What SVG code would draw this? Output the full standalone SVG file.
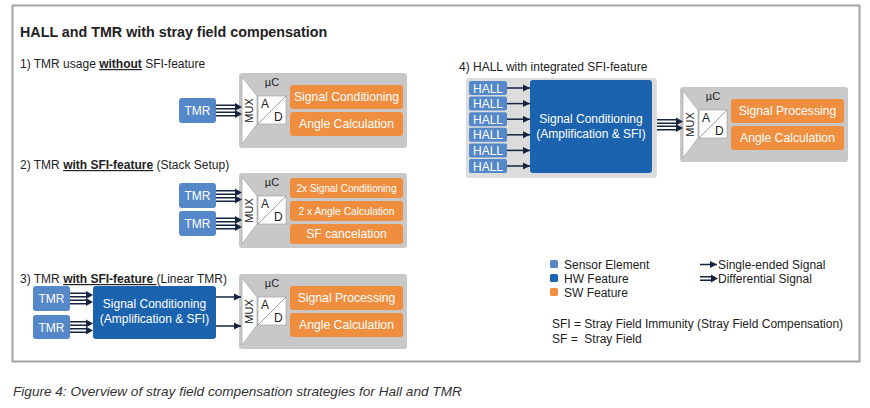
<svg xmlns="http://www.w3.org/2000/svg" width="870" height="408" viewBox="0 0 870 408">
<style>
text{font-family:"Liberation Sans",Arial,sans-serif;fill:#222}
.t12{font-size:12px}
.w{fill:#fff}
.mid{text-anchor:middle}
.gray{fill:#c8c8c8}
.sensor{fill:#5488c9}
.hw{fill:#1b63ae}
.sw{fill:#ef8e3e}
.mux{fill:#fff;stroke:#9a9a9a;stroke-width:0.6}
.diag{stroke:#8a8a8a;stroke-width:0.8}
.ln{stroke:#16243f;stroke-width:1.5;fill:none}
.hd{fill:#16243f}
</style>
<defs>
<marker id="ah" markerUnits="userSpaceOnUse" markerWidth="8" markerHeight="8" refX="7" refY="4" orient="auto">
<path d="M0,0.5 L7,4 L0,7.5 z" fill="#16243f"/>
</marker>
</defs>

<rect x="12.5" y="5.5" width="847" height="356" fill="#fff" stroke="#a4a4a4" stroke-width="2"/>
<text x="20" y="37" style="font-size:14.3px;font-weight:bold">HALL and TMR with stray field compensation</text>

<text class="t12" x="20" y="68">1) TMR usage <tspan font-weight="bold" text-decoration="underline">without</tspan> SFI-feature</text>
<text class="t12" x="20" y="169">2) TMR <tspan font-weight="bold" text-decoration="underline">with SFI-feature</tspan> (Stack Setup)</text>
<text class="t12" x="20" y="283">3) TMR <tspan font-weight="bold" text-decoration="underline">with SFI-feature </tspan>(Linear TMR)</text>
<text class="t12" x="459" y="71">4) HALL with integrated SFI-feature</text>

<!-- Section 1 -->
<g id="tmr1">
<rect class="sensor" x="179" y="98" width="37" height="25" rx="3"/>
<text class="t12 w mid" x="197.5" y="115">TMR</text>
</g>
<g id="mcu1" transform="translate(239,73)">
<rect class="gray" width="168" height="75" rx="3"/>
<polygon class="mux" points="3,4 18,23 18,51 3,71"/>
<text transform="translate(14,37.5) rotate(-90)" class="mid" style="font-size:11px">MUX</text>
<rect class="mux" x="19" y="23" width="28" height="28"/>
<line class="diag" x1="19" y1="51" x2="47" y2="23"/>
<text class="t12" x="22" y="35">A</text>
<text class="t12" x="35" y="48">D</text>
<text class="mid" x="33" y="13" style="font-size:11px">µC</text>
<rect class="sw" x="51" y="12" width="113" height="24" rx="3"/>
<text class="w mid" x="107.5" y="28.3" style="font-size:12.2px">Signal Conditioning</text>
<rect class="sw" x="51" y="39" width="113" height="24" rx="3"/>
<text class="w mid" x="107.5" y="55.3" style="font-size:12.2px">Angle Calculation</text>
</g>

<!-- Section 2 -->
<g id="tmr2a">
<rect class="sensor" x="179" y="183" width="37" height="25" rx="3"/>
<text class="t12 w mid" x="197.5" y="200">TMR</text>
</g>
<g id="tmr2b">
<rect class="sensor" x="179" y="211" width="37" height="25" rx="3"/>
<text class="t12 w mid" x="197.5" y="228">TMR</text>
</g>
<g id="mcu2" transform="translate(239,173)">
<rect class="gray" width="168" height="75" rx="3"/>
<polygon class="mux" points="3,4 18,23 18,51 3,71"/>
<text transform="translate(14,37.5) rotate(-90)" class="mid" style="font-size:11px">MUX</text>
<rect class="mux" x="19" y="23" width="28" height="28"/>
<line class="diag" x1="19" y1="51" x2="47" y2="23"/>
<text class="t12" x="22" y="35">A</text>
<text class="t12" x="35" y="48">D</text>
<text class="mid" x="33" y="13" style="font-size:11px">µC</text>
<rect class="sw" x="51" y="5" width="113" height="20" rx="3"/>
<text class="w mid" x="107.5" y="19" style="font-size:11.5px" textLength="100" lengthAdjust="spacingAndGlyphs">2x Signal Conditioning</text>
<rect class="sw" x="51" y="28" width="113" height="20" rx="3"/>
<text class="w mid" x="107.5" y="42" style="font-size:11.5px" textLength="96" lengthAdjust="spacingAndGlyphs">2 x Angle Calculation</text>
<rect class="sw" x="51" y="51" width="113" height="20" rx="3"/>
<text class="w mid" x="107.5" y="65.3" style="font-size:12.2px">SF cancelation</text>
</g>

<!-- Section 3 -->
<g id="tmr3a">
<rect class="sensor" x="33" y="286" width="37" height="25" rx="3"/>
<text class="t12 w mid" x="51.5" y="303">TMR</text>
</g>
<g id="tmr3b">
<rect class="sensor" x="33" y="315" width="37" height="24" rx="3"/>
<text class="t12 w mid" x="51.5" y="331.5">TMR</text>
</g>
<g id="sc3">
<rect class="hw" x="93" y="286" width="123" height="53" rx="3"/>
<text class="t12 w mid" x="154.5" y="308">Signal Conditioning</text>
<text class="t12 w mid" x="154.5" y="323">(Amplification &amp; SFI)</text>
</g>
<g id="mcu3" transform="translate(239,274)">
<rect class="gray" width="168" height="75" rx="3"/>
<polygon class="mux" points="3,4 18,23 18,51 3,71"/>
<text transform="translate(14,37.5) rotate(-90)" class="mid" style="font-size:11px">MUX</text>
<rect class="mux" x="19" y="23" width="28" height="28"/>
<line class="diag" x1="19" y1="51" x2="47" y2="23"/>
<text class="t12" x="22" y="35">A</text>
<text class="t12" x="35" y="48">D</text>
<text class="mid" x="33" y="13" style="font-size:11px">µC</text>
<rect class="sw" x="51" y="12" width="113" height="24" rx="3"/>
<text class="w mid" x="107.5" y="28.3" style="font-size:12.2px">Signal Processing</text>
<rect class="sw" x="51" y="39" width="113" height="24" rx="3"/>
<text class="w mid" x="107.5" y="55.3" style="font-size:12.2px">Angle Calculation</text>
</g>

<!-- Section 4 -->
<g id="hallgroup">
<rect x="466" y="78" width="191" height="100" rx="3" fill="#dcdcdc"/>
</g>
<g id="hall1"><rect class="sensor" x="469" y="81" width="38" height="14" rx="2"/><text class="t12 w mid" x="488" y="92.5">HALL</text></g>
<g id="hall2"><rect class="sensor" x="469" y="96.6" width="38" height="14" rx="2"/><text class="t12 w mid" x="488" y="108.1">HALL</text></g>
<g id="hall3"><rect class="sensor" x="469" y="112.2" width="38" height="14" rx="2"/><text class="t12 w mid" x="488" y="123.7">HALL</text></g>
<g id="hall4"><rect class="sensor" x="469" y="127.8" width="38" height="14" rx="2"/><text class="t12 w mid" x="488" y="139.3">HALL</text></g>
<g id="hall5"><rect class="sensor" x="469" y="143.4" width="38" height="14" rx="2"/><text class="t12 w mid" x="488" y="154.9">HALL</text></g>
<g id="hall6"><rect class="sensor" x="469" y="159" width="38" height="14" rx="2"/><text class="t12 w mid" x="488" y="170.5">HALL</text></g>
<g id="sc4">
<rect class="hw" x="530" y="80" width="122" height="93" rx="3"/>
<text class="t12 w mid" x="591" y="123">Signal Conditioning</text>
<text class="t12 w mid" x="591" y="138">(Amplification &amp; SFI)</text>
</g>
<g id="mcu4" transform="translate(680,87)">
<rect class="gray" width="168" height="75" rx="3"/>
<polygon class="mux" points="3,4 18,23 18,51 3,71"/>
<text transform="translate(14,37.5) rotate(-90)" class="mid" style="font-size:11px">MUX</text>
<rect class="mux" x="19" y="23" width="28" height="28"/>
<line class="diag" x1="19" y1="51" x2="47" y2="23"/>
<text class="t12" x="22" y="35">A</text>
<text class="t12" x="35" y="48">D</text>
<text class="mid" x="33" y="13" style="font-size:11px">µC</text>
<rect class="sw" x="51" y="12" width="113" height="24" rx="3"/>
<text class="w mid" x="107.5" y="28.3" style="font-size:12.2px">Signal Processing</text>
<rect class="sw" x="51" y="39" width="113" height="24" rx="3"/>
<text class="w mid" x="107.5" y="55.3" style="font-size:12.2px">Angle Calculation</text>
</g>

<!-- Connectors -->
<g id="connectors">
<!-- differential: section 1 -->
<path class="ln" d="M216,105.3H236M216,108.7H236M216,112.3H236M216,115.7H236"/>
<path class="hd" d="M235,103L242,107L235,111zM235,110L242,114L235,118z"/>
<!-- section 2 -->
<path class="ln" d="M216,190.8H236M216,194.2H236M216,197.8H236M216,201.2H236"/>
<path class="hd" d="M235,188.5L242,192.5L235,196.5zM235,195.5L242,199.5L235,203.5z"/>
<path class="ln" d="M216,218.3H236M216,221.7H236M216,225.3H236M216,228.7H236"/>
<path class="hd" d="M235,216L242,220L235,224zM235,223L242,227L235,231z"/>
<!-- section 3 -->
<path class="ln" d="M70,293.3H87M70,296.7H87M70,300.3H87M70,303.7H87"/>
<path class="hd" d="M86,291L93,295L86,299zM86,298L93,302L86,306z"/>
<path class="ln" d="M70,321.8H87M70,325.2H87M70,328.8H87M70,332.2H87"/>
<path class="hd" d="M86,319.5L93,323.5L86,327.5zM86,326.5L93,330.5L86,334.5z"/>
<line class="ln" x1="216" y1="297" x2="241" y2="297" marker-end="url(#ah)"/>
<line class="ln" x1="216" y1="326" x2="241" y2="326" marker-end="url(#ah)"/>
<!-- section 4 -->
<line class="ln" x1="507" y1="88" x2="530" y2="88" marker-end="url(#ah)"/>
<line class="ln" x1="507" y1="103.6" x2="530" y2="103.6" marker-end="url(#ah)"/>
<line class="ln" x1="507" y1="119.2" x2="530" y2="119.2" marker-end="url(#ah)"/>
<line class="ln" x1="507" y1="134.8" x2="530" y2="134.8" marker-end="url(#ah)"/>
<line class="ln" x1="507" y1="150.4" x2="530" y2="150.4" marker-end="url(#ah)"/>
<line class="ln" x1="507" y1="166" x2="530" y2="166" marker-end="url(#ah)"/>
<path class="ln" d="M657,119.8H677M657,123.2H677M657,126.3H677M657,129.7H677"/>
<path class="hd" d="M676,117.5L683,121.5L676,125.5zM676,124L683,128L676,132z"/>
</g>

<!-- Legend -->
<g id="legend">
<rect class="sensor" x="550" y="260" width="8" height="8" rx="1.5"/>
<text class="t12" x="564" y="269">Sensor Element</text>
<rect class="hw" x="550" y="274" width="8" height="8" rx="1.5"/>
<text class="t12" x="564" y="283">HW Feature</text>
<rect class="sw" x="550" y="288" width="8" height="8" rx="1.5"/>
<text class="t12" x="564" y="297">SW Feature</text>
<line class="ln" x1="700" y1="264.5" x2="717" y2="264.5" marker-end="url(#ah)"/>
<text class="t12" x="718" y="269">Single-ended Signal</text>
<path class="ln" d="M700,276.8H712M700,280.2H712"/>
<path class="hd" d="M711,274.5L718,278.5L711,282.5z"/>
<text class="t12" x="718" y="283">Differential Signal</text>
<text class="t12" x="552" y="328">SFI = Stray Field Immunity (Stray Field Compensation)</text>
<text class="t12" x="552" y="343" xml:space="preserve">SF =  Stray Field</text>
</g>

<text x="13" y="396" style="font-size:13.6px;font-style:italic;fill:#333">Figure 4: Overview of stray field compensation strategies for Hall and TMR</text>
</svg>
